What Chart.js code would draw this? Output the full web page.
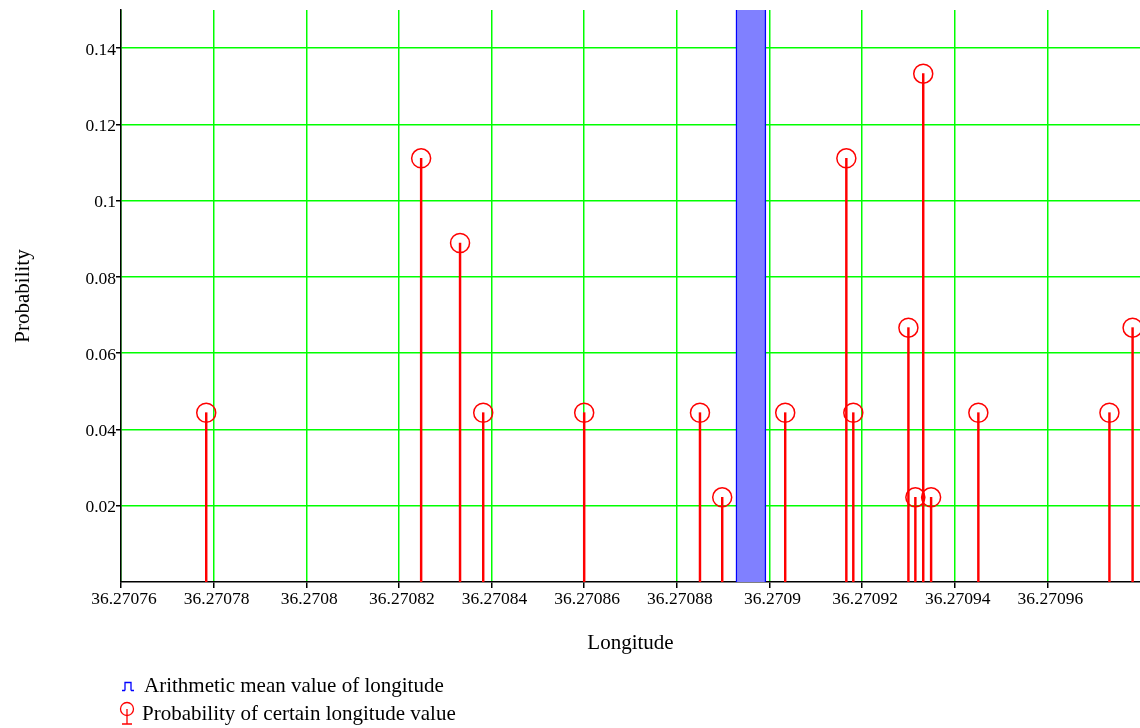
<!DOCTYPE html>
<html>
<head>
<meta charset="utf-8">
<script src="https://cdn.jsdelivr.net/npm/chart.js@4.4.0/dist/chart.umd.min.js"></script>
<style>
  html, body { margin: 0; padding: 0; background: #fff; }
  canvas { display: block; }
</style>
</head>
<body>
<canvas id="chart" width="1140" height="728"></canvas>
<script>
// values
var longitudes = [36.2707784, 36.2708248, 36.2708332, 36.2708382, 36.27086, 36.270885, 36.2708898,
    36.2709034, 36.2709166, 36.2709181, 36.27093, 36.2709315, 36.2709332, 36.2709349,
    36.2709451, 36.2709734, 36.2709784];
var probabilities = [0.0444, 0.1111, 0.0889, 0.0444, 0.0444, 0.0444, 0.0222,
    0.0444, 0.1111, 0.0444, 0.0667, 0.0222, 0.1333, 0.0222,
    0.0444, 0.0444, 0.0667];
var meanLongitude = [36.270896];
var meanHeight = [0.15];

var xTickValues = [36.27076, 36.27078, 36.2708, 36.27082, 36.27084, 36.27086, 36.27088, 36.2709, 36.27092, 36.27094, 36.27096];
var xTickLabels = ["36.27076", "36.27078", "36.2708", "36.27082", "36.27084", "36.27086", "36.27088", "36.2709", "36.27092", "36.27094", "36.27096"];
var yTickValues = [0.02, 0.04, 0.06, 0.08, 0.1, 0.12, 0.14];
var yTickLabels = ["0.02", "0.04", "0.06", "0.08", "0.1", "0.12", "0.14"];

var legendLabels = ["Arithmetic mean value of longitude", "Probability of certain longitude value"];

var serif = "'Liberation Serif', 'Times New Roman', serif";

function pairs(xs, ys) {
    return xs.map(function (x, i) { return { x: x, y: ys[i] }; });
}

// legend drawn under the axis title, like the original
var legendPlugin = {
    id: "bottomLegend",
    afterDraw: function (chart) {
        var ctx = chart.ctx;
        ctx.save();
        // mean icon
        ctx.strokeStyle = "#0000ff";
        ctx.lineWidth = 1.3;
        ctx.beginPath();
        ctx.moveTo(122, 690.5); ctx.lineTo(125, 690.5);
        ctx.moveTo(125, 690.5); ctx.lineTo(125, 682.5); ctx.lineTo(131, 682.5); ctx.lineTo(131, 690.5);
        ctx.moveTo(131, 690.5); ctx.lineTo(134, 690.5);
        ctx.stroke();
        // probability icon
        ctx.strokeStyle = "#ff0000";
        ctx.beginPath();
        ctx.arc(127, 709, 6.5, 0, Math.PI * 2);
        ctx.stroke();
        ctx.beginPath();
        ctx.moveTo(127, 709); ctx.lineTo(127, 724);
        ctx.moveTo(122, 724); ctx.lineTo(132, 724);
        ctx.stroke();

        ctx.fillStyle = "#000";
        ctx.font = "21px " + serif;
        ctx.textBaseline = "alphabetic";
        ctx.textAlign = "left";
        ctx.fillText(legendLabels[0], 144, 692);
        ctx.fillText(legendLabels[1], 142, 720);
        ctx.restore();
    }
};

var ctx = document.getElementById("chart").getContext("2d");

new Chart(ctx, {
    type: "scatter",
    data: {
        datasets: [
            {
                type: "scatter",
                label: legendLabels[1],
                data: pairs(longitudes, probabilities),
                pointStyle: "circle",
                pointRadius: 9.5,
                pointBorderWidth: 1.5,
                borderColor: "#ff0000",
                backgroundColor: "rgba(0,0,0,0)",
                order: 0
            },
            {
                type: "bar",
                label: "stems",
                data: pairs(longitudes, probabilities),
                backgroundColor: "#ff0000",
                borderWidth: 0,
                barThickness: 1.8,
                grouped: false,
                order: 1
            },
            {
                type: "bar",
                label: legendLabels[0],
                data: pairs(meanLongitude, meanHeight),
                backgroundColor: "#8080ff",
                borderColor: "#0000ff",
                borderWidth: { left: 1.5, right: 1.5, top: 0, bottom: 0 },
                borderSkipped: false,
                barThickness: 30,
                grouped: false,
                order: 2
            }
        ]
    },
    options: {
        responsive: false,
        animation: false,
        layout: { autoPadding: false, padding: { top: 10, left: 0, right: 0, bottom: 0 } },
        plugins: {
            legend: { display: false },
            tooltip: { enabled: false }
        },
        scales: {
            x: {
                type: "linear",
                min: 36.27076,
                max: 36.27098,
                offset: false,
                afterBuildTicks: function (scale) {
                    scale.ticks = xTickValues.map(function (v) { return { value: v }; });
                },
                afterFit: function (scale) {
                    scale.height = 146;
                    scale.paddingLeft = 0;
                    scale.paddingRight = 0;
                },
                ticks: {
                    autoSkip: false,
                    maxRotation: 0,
                    padding: 1,
                    labelOffset: 3,
                    color: "#000",
                    font: { family: serif, size: 17.5 },
                    callback: function (value, index) { return xTickLabels[index]; }
                },
                grid: {
                    color: "#00ff00",
                    lineWidth: 1.5,
                    tickColor: "#000",
                    tickLength: 6,
                    offset: false
                },
                border: { color: "#000", width: 1.5 },
                title: {
                    display: true,
                    text: "Longitude",
                    color: "#000",
                    font: { family: serif, size: 21 },
                    padding: { top: 0, bottom: 72 }
                }
            },
            y: {
                type: "linear",
                min: 0,
                max: 0.15,
                afterBuildTicks: function (scale) {
                    scale.ticks = yTickValues.map(function (v) { return { value: v }; });
                },
                afterFit: function (scale) {
                    scale.width = 121;
                    scale.paddingTop = 0;
                    scale.paddingBottom = 0;
                },
                ticks: {
                    padding: 0,
                    labelOffset: 2,
                    color: "#000",
                    font: { family: serif, size: 17.5 },
                    callback: function (value, index) { return yTickLabels[index]; }
                },
                grid: {
                    color: "#00ff00",
                    lineWidth: 1.5,
                    tickColor: "#000",
                    tickLength: 5
                },
                border: { color: "#000", width: 1.5 },
                title: {
                    display: true,
                    text: "Probability",
                    color: "#000",
                    font: { family: serif, size: 21 },
                    padding: { top: 11, bottom: 0 }
                }
            }
        }
    },
    plugins: [legendPlugin]
});
</script>
</body>
</html>
